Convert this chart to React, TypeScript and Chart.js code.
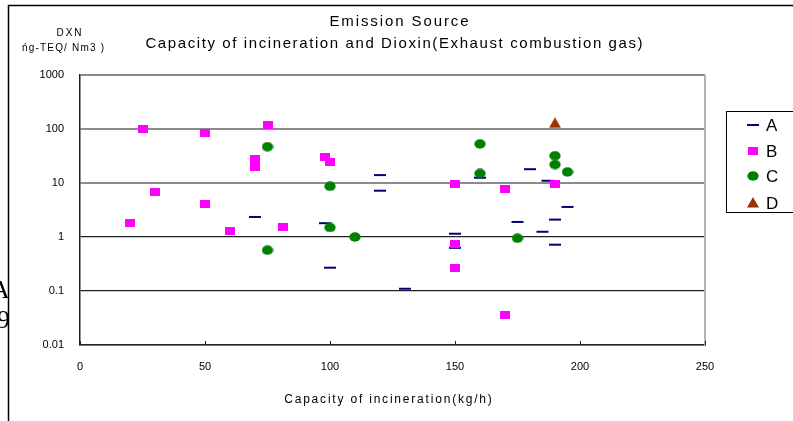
import React, { useEffect, useRef } from 'react';
import { Chart, registerables } from 'chart.js';

Chart.register(...registerables);

// ---- data ----
const seriesNames = ['A', 'B', 'C', 'D'];
const seriesColors = ['#000080', '#ff00ff', '#008000', '#993300'];

const aX = [70, 98, 100, 120, 120, 130, 150, 150, 160, 175, 180, 185, 187, 190, 190, 195];
const aY = [2.35, 1.8, 0.27, 14, 7.2, 0.11, 1.15, 0.63, 12.5, 1.9, 18, 1.25, 11, 2.1, 0.72, 3.6];

const bX = [20, 25, 30, 50, 50, 60, 70, 70, 75, 81, 98, 100, 150, 150, 150, 170, 170, 190];
const bY = [1.8, 100, 6.8, 85, 4.1, 1.3, 28, 20, 120, 1.5, 30, 24, 9.7, 0.74, 0.27, 7.7, 0.036, 9.7];

const cX = [75, 75, 100, 100, 110, 160, 160, 175, 190, 190, 195];
const cY = [47, 0.57, 8.7, 1.5, 1.0, 53, 15, 0.95, 32, 22, 16];

const dX = [190];
const dY = [130];

const yTicks = [0.01, 0.1, 1, 10, 100, 1000];
const yTickLabels = ['0.01', '0.1', '1', '10', '100', '1000'];
const xTicks = [0, 50, 100, 150, 200, 250];

const titleLines = ['Emission Source', 'Capacity of incineration and Dioxin(Exhaust combustion gas)'];
const yTitleLines = ['DXN', 'ńg-TEQ/ Nm3 )'];
const xTitle = 'Capacity of incineration(kg/h)';

const FONT = '"Liberation Sans", Arial, sans-serif';

function toPoints(xs: number[], ys: number[]) {
  return xs.map((x, i) => ({ x, y: ys[i] }));
}

function makeRect(color: string) {
  const c = document.createElement('canvas');
  c.width = 10; c.height = 8;
  const g = c.getContext('2d')!;
  g.fillStyle = color; g.fillRect(0, 0, 10, 8);
  return c;
}
function makeEllipse(color: string) {
  const c = document.createElement('canvas');
  c.width = 12; c.height = 10;
  const g = c.getContext('2d')!;
  g.fillStyle = color;
  g.beginPath(); g.ellipse(6, 5, 5.7, 4.7, 0, 0, Math.PI * 2); g.fill();
  return c;
}
function makeTriangle(color: string) {
  const c = document.createElement('canvas');
  c.width = 12; c.height = 11;
  const g = c.getContext('2d')!;
  g.fillStyle = color;
  g.beginPath(); g.moveTo(6, 0); g.lineTo(12, 10.5); g.lineTo(0, 10.5); g.closePath(); g.fill();
  return c;
}

function spacedText(ctx: CanvasRenderingContext2D, text: string, cx: number, cy: number, spacing: number) {
  // centre text drawn with extra letter spacing
  (ctx as any).letterSpacing = spacing + 'px';
  const w = ctx.measureText(text).width;
  ctx.textAlign = 'left';
  ctx.fillText(text, cx - (w - spacing) / 2, cy);
  (ctx as any).letterSpacing = '0px';
}

export default function App() {
  const ref = useRef<HTMLCanvasElement | null>(null);

  useEffect(() => {
    const canvas = ref.current!;
    const imgB = makeRect(seriesColors[1]);
    const imgC = makeEllipse(seriesColors[2]);
    const imgD = makeTriangle(seriesColors[3]);

    const decor = {
      id: 'decor',
      afterDraw(chart: any) {
        const ctx = chart.ctx as CanvasRenderingContext2D;
        const ca = chart.chartArea;
        const xs = chart.scales.x;
        ctx.save();
        // right border of plot
        ctx.strokeStyle = '#b4b4b4';
        ctx.lineWidth = 2;
        ctx.beginPath(); ctx.moveTo(ca.right, ca.top); ctx.lineTo(ca.right, ca.bottom); ctx.stroke();
        // x tick marks (inside)
        ctx.strokeStyle = '#222';
        ctx.lineWidth = 1;
        xTicks.forEach((v) => {
          const px = Math.round(xs.getPixelForValue(v)) + 0.5;
          ctx.beginPath(); ctx.moveTo(px, ca.bottom); ctx.lineTo(px, ca.bottom - 4); ctx.stroke();
        });
        // outer frame
        ctx.strokeStyle = '#000';
        ctx.lineWidth = 1.5;
        ctx.beginPath(); ctx.moveTo(8.5, 421); ctx.lineTo(8.5, 5.5); ctx.lineTo(793, 5.5); ctx.stroke();
        // titles
        ctx.fillStyle = '#000';
        ctx.textBaseline = 'middle';
        ctx.font = '15px ' + FONT;
        spacedText(ctx, titleLines[0], 399, 22, 1.9);
        spacedText(ctx, titleLines[1], 394, 44, 1.6);
        ctx.font = '10px ' + FONT;
        spacedText(ctx, yTitleLines[0], 69, 33, 2);
        spacedText(ctx, yTitleLines[1], 63, 48, 1.2);
        ctx.font = '12px ' + FONT;
        spacedText(ctx, xTitle, 388, 400, 1.8);
        // legend
        ctx.strokeStyle = '#000';
        ctx.lineWidth = 1;
        ctx.strokeRect(726.5, 111.5, 100, 101);
        const ly = [125, 151, 176, 203];
        const mx = 753;
        ctx.strokeStyle = seriesColors[0];
        ctx.lineWidth = 2;
        ctx.beginPath(); ctx.moveTo(mx - 6, ly[0]); ctx.lineTo(mx + 6, ly[0]); ctx.stroke();
        ctx.drawImage(imgB, mx - 5, ly[1] - 4);
        ctx.drawImage(imgC, mx - 6, ly[2] - 5);
        ctx.drawImage(imgD, mx - 6, ly[3] - 6);
        ctx.fillStyle = '#000';
        ctx.textAlign = 'left';
        ctx.font = '17px ' + FONT;
        seriesNames.forEach((n, i) => ctx.fillText(n, 766, ly[i] + 1));
        // clipped background glyphs at far left
        ctx.beginPath(); ctx.rect(0, 0, 8, 421); ctx.clip();
        ctx.font = '26px "Liberation Serif", serif';
        ctx.textBaseline = 'alphabetic';
        ctx.fillText('A', -9, 298);
        ctx.fillText('9', -3, 328);
        ctx.restore();
      },
    };

    const chart = new Chart(canvas, {
      type: 'scatter',
      data: {
        datasets: [
          {
            label: seriesNames[0], data: toPoints(aX, aY), order: 4,
            pointStyle: 'line', pointRadius: 6, pointHoverRadius: 6,
            pointBorderWidth: 2, borderColor: seriesColors[0], backgroundColor: seriesColors[0],
          },
          {
            label: seriesNames[1], data: toPoints(bX, bY), order: 3,
            pointStyle: imgB as any, pointRadius: 5, backgroundColor: seriesColors[1], borderColor: seriesColors[1],
          },
          {
            label: seriesNames[2], data: toPoints(cX, cY), order: 2,
            pointStyle: imgC as any, pointRadius: 5, backgroundColor: seriesColors[2], borderColor: seriesColors[2],
          },
          {
            label: seriesNames[3], data: toPoints(dX, dY), order: 1,
            pointStyle: imgD as any, pointRadius: 6, backgroundColor: seriesColors[3], borderColor: seriesColors[3],
          },
        ],
      },
      options: {
        responsive: false,
        animation: false,
        devicePixelRatio: 1,
        layout: { padding: { left: 0, top: 75, right: 88, bottom: 0 } },
        plugins: {
          legend: { display: false },
          title: { display: false },
          tooltip: { enabled: false },
        },
        scales: {
          x: {
            type: 'linear', min: 0, max: 250,
            afterBuildTicks: (s: any) => { s.ticks = xTicks.map((v) => ({ value: v })); },
            afterFit: (s: any) => { s.height = 76; },
            grid: { display: false, drawTicks: false },
            border: { display: true, color: '#222', width: 1.5 },
            ticks: { padding: 15, color: '#000', font: { family: FONT, size: 11 }, maxRotation: 0 },
          },
          y: {
            type: 'logarithmic', min: 0.01, max: 1000,
            afterBuildTicks: (s: any) => { s.ticks = yTicks.map((v) => ({ value: v })); },
            afterFit: (s: any) => { s.width = 80; },
            grid: {
              drawTicks: false,
              color: (c: any) => {
                const v = c.tick ? c.tick.value : 0;
                return v >= 10 ? '#8c8c8c' : '#222';
              },
              lineWidth: (c: any) => {
                const v = c.tick ? c.tick.value : 0;
                return v >= 10 ? 2 : 1.2;
              },
            },
            border: { display: true, color: '#222', width: 1.5 },
            ticks: {
              padding: 16, color: '#000', font: { family: FONT, size: 11 },
              callback: (_v: any, i: number) => yTickLabels[i],
            },
          },
        },
      },
      plugins: [decor],
    } as any);

    return () => chart.destroy();
  }, []);

  return (
    <div style={{ position: 'fixed', left: 0, top: 0, width: 793, height: 421, background: '#fff' }}>
      <canvas ref={ref} width={793} height={421} style={{ display: 'block', width: 793, height: 421 }} />
    </div>
  );
}
